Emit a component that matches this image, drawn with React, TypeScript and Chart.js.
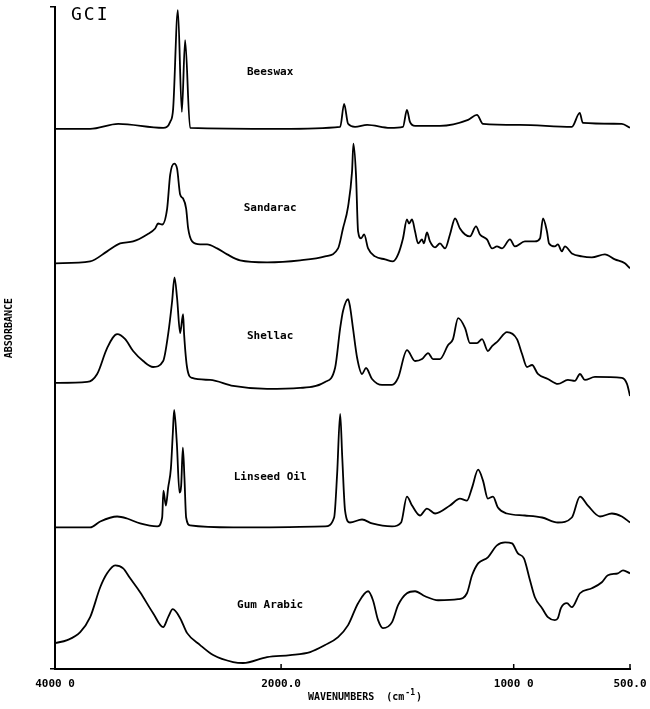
import React, { useEffect, useRef } from "react";
import { Chart, registerables } from "chart.js";

Chart.register(...registerables);

// [wavenumber cm-1, absorbance above the trace's own baseline]
const beeswax: [number, number][] = [
  [4000, 0.0], [3689, 0.0], [3441, 0.05], [3043, 0.01], [2981, 0.07], [2955, 0.2],
  [2913, 1.19], [2878, 0.17], [2849, 0.89], [2805, 0.01], [2000, 0.0], [1746, 0.02],
  [1729, 0.25], [1712, 0.05], [1682, 0.02], [1630, 0.04], [1532, 0.01], [1476, 0.02],
  [1459, 0.19], [1446, 0.07], [1424, 0.03], [1317, 0.03], [1196, 0.09], [1158, 0.14],
  [1132, 0.05], [973, 0.04], [750, 0.02], [716, 0.16], [703, 0.06], [535, 0.05], [500, 0.01],
];

const sandarac: [number, number][] = [
  [4000, 0.0], [3689, 0.02], [3539, 0.12], [3424, 0.2], [3309, 0.22], [3185, 0.29],
  [3114, 0.35], [3088, 0.4], [3052, 0.39], [3008, 0.55], [2981, 0.89], [2946, 1.0],
  [2920, 0.95], [2893, 0.69], [2867, 0.65], [2840, 0.55], [2822, 0.35], [2787, 0.22],
  [2716, 0.19], [2654, 0.19], [2566, 0.15], [2477, 0.09], [2363, 0.03], [2124, 0.01],
  [1918, 0.03], [1811, 0.07], [1755, 0.15], [1734, 0.35], [1712, 0.57], [1695, 0.92],
  [1689, 1.2], [1678, 0.89], [1669, 0.32], [1656, 0.25], [1643, 0.29], [1626, 0.15],
  [1596, 0.07], [1553, 0.04], [1519, 0.02], [1497, 0.09], [1476, 0.25], [1459, 0.44],
  [1450, 0.4], [1437, 0.44], [1424, 0.32], [1411, 0.2], [1394, 0.24], [1386, 0.2],
  [1373, 0.31], [1360, 0.22], [1338, 0.16], [1317, 0.2], [1295, 0.15], [1274, 0.29],
  [1252, 0.45], [1231, 0.35], [1209, 0.29], [1188, 0.27], [1162, 0.37], [1145, 0.29],
  [1115, 0.24], [1093, 0.15], [1072, 0.17], [1050, 0.15], [1016, 0.24], [995, 0.17],
  [952, 0.22], [909, 0.22], [887, 0.25], [874, 0.45], [857, 0.32], [848, 0.2],
  [823, 0.17], [810, 0.19], [793, 0.12], [780, 0.17], [750, 0.1], [707, 0.07],
  [664, 0.06], [608, 0.09], [565, 0.04], [522, 0.0], [500, -0.05],
];

const shellac: [number, number][] = [
  [4000, 0.0], [3715, 0.01], [3627, 0.09], [3539, 0.35], [3450, 0.49], [3379, 0.44],
  [3309, 0.32], [3220, 0.22], [3132, 0.16], [3043, 0.22], [2999, 0.49], [2964, 0.82],
  [2943, 1.06], [2920, 0.85], [2893, 0.5], [2867, 0.69], [2858, 0.49], [2831, 0.15],
  [2787, 0.05], [2628, 0.03], [2424, -0.03], [2124, -0.06], [1918, -0.05], [1811, 0.01],
  [1768, 0.15], [1746, 0.55], [1734, 0.72], [1712, 0.84], [1704, 0.77], [1691, 0.55],
  [1673, 0.25], [1652, 0.09], [1635, 0.15], [1609, 0.04], [1566, -0.02], [1523, -0.02],
  [1497, 0.05], [1459, 0.33], [1424, 0.22], [1394, 0.24], [1368, 0.3], [1347, 0.24],
  [1317, 0.24], [1282, 0.38], [1261, 0.44], [1239, 0.65], [1209, 0.55], [1188, 0.4],
  [1158, 0.4], [1136, 0.44], [1111, 0.32], [1093, 0.37], [1068, 0.42], [1029, 0.51],
  [986, 0.44], [964, 0.29], [943, 0.16], [921, 0.18], [896, 0.09], [853, 0.04],
  [810, -0.01], [767, 0.03], [737, 0.02], [715, 0.09], [694, 0.03], [651, 0.06],
  [535, 0.05], [513, -0.01], [500, -0.13],
];

const linseedOil: [number, number][] = [
  [4000, 0.0], [3689, 0.0], [3600, 0.06], [3450, 0.11], [3362, 0.09], [3247, 0.04],
  [3096, 0.01], [3052, 0.1], [3041, 0.37], [3019, 0.22], [2999, 0.4], [2975, 0.59],
  [2958, 0.94], [2946, 1.18], [2922, 0.84], [2899, 0.35], [2884, 0.42], [2869, 0.8],
  [2855, 0.5], [2840, 0.1], [2805, 0.02], [2424, 0.0], [1811, 0.01], [1772, 0.1],
  [1759, 0.54], [1746, 1.14], [1737, 0.7], [1725, 0.17], [1704, 0.05], [1652, 0.08],
  [1609, 0.04], [1523, 0.01], [1484, 0.05], [1459, 0.31], [1437, 0.22], [1403, 0.12],
  [1373, 0.19], [1338, 0.14], [1274, 0.22], [1231, 0.29], [1201, 0.27], [1179, 0.4],
  [1153, 0.58], [1132, 0.47], [1111, 0.29], [1089, 0.31], [1068, 0.2], [1029, 0.14],
  [952, 0.12], [878, 0.1], [810, 0.05], [750, 0.1], [715, 0.31], [681, 0.22],
  [629, 0.11], [578, 0.14], [535, 0.11], [500, 0.05],
];

const gumArabic: [number, number][] = [
  [4000, 0.24], [3892, 0.27], [3777, 0.35], [3689, 0.5], [3600, 0.8], [3539, 0.94],
  [3468, 1.02], [3397, 0.99], [3335, 0.89], [3247, 0.75], [3132, 0.54], [3043, 0.4],
  [2999, 0.5], [2958, 0.58], [2893, 0.49], [2831, 0.34], [2716, 0.22], [2601, 0.12],
  [2424, 0.05], [2336, 0.04], [2124, 0.1], [1961, 0.12], [1875, 0.15], [1811, 0.22],
  [1755, 0.3], [1712, 0.42], [1669, 0.64], [1626, 0.76], [1605, 0.67], [1583, 0.47],
  [1562, 0.39], [1523, 0.45], [1497, 0.62], [1459, 0.74], [1424, 0.76], [1381, 0.71],
  [1325, 0.67], [1239, 0.68], [1201, 0.74], [1179, 0.92], [1153, 1.04], [1111, 1.1],
  [1072, 1.22], [1037, 1.25], [1007, 1.24], [982, 1.14], [956, 1.09], [930, 0.87],
  [909, 0.7], [878, 0.59], [853, 0.5], [823, 0.47], [810, 0.49], [797, 0.59],
  [771, 0.64], [750, 0.6], [715, 0.74], [664, 0.79], [621, 0.85], [595, 0.92],
  [552, 0.94], [530, 0.97], [500, 0.94],
];

const traceNames = ["Beeswax", "Sandarac", "Shellac", "Linseed Oil", "Gum Arabic"];
const traceData = [beeswax, sandarac, shellac, linseedOil, gumArabic];
const traceOffsets = [5.42, 4.07, 2.87, 1.42, 0.02];
const labelHeights = [0.57, 0.55, 0.47, 0.5, 0.62];
const labelWavenumber = 2097;

const xTickValues = [4000, 2000, 1000, 500];
const xTickLabels = ["4000 0", "2000.0", "1000 0", "500.0"];
const yMax = 6.64;

// Scale change at 2000 cm-1 (region above is compressed, as on the instrument plot)
const SPLIT = 2000;
const COMPRESS = 0.486;
const toAxis = (wn: number) => (wn <= SPLIT ? wn : SPLIT + (wn - SPLIT) * COMPRESS);

const MONO = '"DejaVu Sans Mono", "Liberation Mono", monospace';

export default function App() {
  const ref = useRef<HTMLCanvasElement | null>(null);

  useEffect(() => {
    if (!ref.current) return;

    const overlay = {
      id: "overlay",
      afterDraw(chart: any) {
        const { ctx, chartArea } = chart;
        const x = chart.scales.x;
        const y = chart.scales.y;
        ctx.save();
        ctx.fillStyle = "#000";
        ctx.strokeStyle = "#000";
        // inward tick marks on the wavenumber axis
        ctx.lineWidth = 1.5;
        xTickValues.forEach((w) => {
          const px = x.getPixelForValue(toAxis(w));
          ctx.beginPath();
          ctx.moveTo(px, chartArea.bottom);
          ctx.lineTo(px, chartArea.bottom - 5);
          ctx.stroke();
        });
        // trace labels
        ctx.font = `bold 11px ${MONO}`;
        ctx.textAlign = "center";
        ctx.textBaseline = "middle";
        traceNames.forEach((n, i) => {
          ctx.fillText(
            n,
            x.getPixelForValue(toAxis(labelWavenumber)),
            y.getPixelForValue(traceOffsets[i] + labelHeights[i])
          );
        });
        // corner title
        ctx.font = `18px ${MONO}`;
        ctx.textAlign = "left";
        ctx.textBaseline = "top";
        (ctx as any).letterSpacing = "2px";
        ctx.fillText("GCI", chartArea.left + 16, chartArea.top - 1);
        (ctx as any).letterSpacing = "0px";
        // y axis title
        ctx.save();
        ctx.translate(9, (chartArea.top + chartArea.bottom) / 2 - 10);
        ctx.rotate(-Math.PI / 2);
        ctx.font = `bold 10px ${MONO}`;
        ctx.textAlign = "center";
        ctx.textBaseline = "middle";
        ctx.fillText("ABSORBANCE", 0, 0);
        ctx.restore();
        // x axis title
        ctx.font = `bold 10px ${MONO}`;
        ctx.textAlign = "left";
        ctx.textBaseline = "alphabetic";
        const tx = 308;
        const ty = chartArea.bottom + 31;
        const main = "WAVENUMBERS  (cm";
        ctx.fillText(main, tx, ty);
        const w1 = ctx.measureText(main).width;
        ctx.font = `bold 8px ${MONO}`;
        ctx.fillText("-1", tx + w1 + 1, ty - 5);
        const w2 = ctx.measureText("-1").width;
        ctx.font = `bold 10px ${MONO}`;
        ctx.fillText(")", tx + w1 + w2 + 2, ty);
        ctx.restore();
      },
    };

    const chart = new Chart(ref.current, {
      type: "line",
      data: {
        datasets: traceData.map((arr, i) => ({
          label: traceNames[i],
          data: arr.map(([w, a]) => ({ x: toAxis(w), y: a + traceOffsets[i] })),
          borderColor: "#000",
          borderWidth: 1.8,
          pointRadius: 0,
          fill: false,
          cubicInterpolationMode: "monotone" as const,
        })),
      },
      options: {
        animation: false,
        responsive: false,
        layout: { padding: { top: 5, right: 20, left: 0, bottom: 0 } },
        plugins: { legend: { display: false }, tooltip: { enabled: false }, title: { display: false } },
        scales: {
          x: {
            type: "linear",
            reverse: true,
            min: toAxis(500),
            max: toAxis(4000),
            afterBuildTicks: (s: any) => {
              s.ticks = xTickValues.map((w) => ({ value: toAxis(w) }));
            },
            afterFit: (s: any) => {
              s.height = 40;
              s.paddingLeft = 0;
              s.paddingRight = 0;
            },
            ticks: {
              autoSkip: false,
              maxRotation: 0,
              padding: 9,
              color: "#000",
              font: { family: MONO, size: 11, weight: "bold" },
              callback: (v: any) => {
                const idx = xTickValues.findIndex((w) => Math.abs(toAxis(w) - v) < 1e-6);
                return idx >= 0 ? xTickLabels[idx] : "";
              },
            },
            grid: { display: false, drawTicks: false },
            border: { display: true, color: "#000", width: 2 },
          },
          y: {
            type: "linear",
            min: 0,
            max: yMax,
            afterBuildTicks: (s: any) => {
              s.ticks = [{ value: 0 }, { value: yMax }];
            },
            afterFit: (s: any) => {
              s.width = 55;
            },
            ticks: { callback: () => "", padding: 0 },
            grid: { drawOnChartArea: false, drawTicks: true, tickLength: 5, color: "#000", lineWidth: 1.5 },
            border: { display: true, color: "#000", width: 2 },
          },
        },
      },
      plugins: [overlay],
    } as any);

    return () => chart.destroy();
  }, []);

  return (
    <div style={{ position: "absolute", left: 0, top: 0, width: 650, height: 709, background: "#fff" }}>
      <canvas ref={ref} width={650} height={709} style={{ display: "block" }} />
    </div>
  );
}
